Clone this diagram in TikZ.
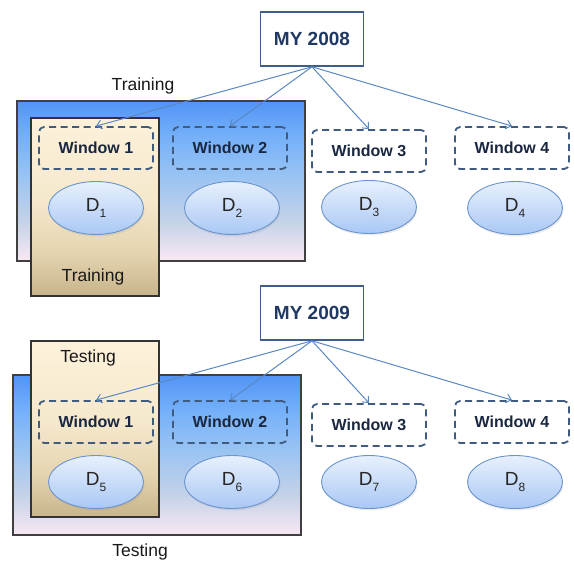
\documentclass[tikz,border=0pt]{standalone}
\usepackage{fontspec}
\setmainfont{Liberation Sans}
\usetikzlibrary{shapes.geometric,arrows.meta,shadows}
\definecolor{mybord}{HTML}{3E5C8C}
\definecolor{mytext}{HTML}{1F3864}
\definecolor{winbord}{HTML}{3F5B80}
\definecolor{wintext}{HTML}{1A2740}
\definecolor{arrowc}{HTML}{5A88C2}
\definecolor{bluetop}{HTML}{5294F6}
\definecolor{blueup}{HTML}{74B0F9}
\definecolor{bluemid}{HTML}{98C3F3}
\definecolor{bluegray}{HTML}{C6D3E8}
\definecolor{bluebot}{HTML}{F9E8F4}
\definecolor{tantop}{HTML}{FDF1DA}
\definecolor{tanmid}{HTML}{F5E8CC}
\definecolor{tanlow}{HTML}{E4D4B0}
\definecolor{tanbot}{HTML}{C7B48A}
\definecolor{elltop}{HTML}{E8F0FD}
\definecolor{ellbot}{HTML}{A9C8F5}
\definecolor{ellbord}{HTML}{6A94CC}
\pgfdeclareverticalshading{bluesh}{100bp}{color(0bp)=(bluebot); color(25bp)=(bluebot); color(37bp)=(bluegray); color(52bp)=(bluemid); color(64bp)=(blueup); color(75bp)=(bluetop); color(100bp)=(bluetop)}
\pgfdeclareverticalshading{tansh}{100bp}{color(0bp)=(tanbot); color(25bp)=(tanbot); color(37bp)=(tanlow); color(52bp)=(tanmid); color(75bp)=(tantop); color(100bp)=(tantop)}
\newcommand{\dsub}[1]{D\raisebox{-0.28em}{\fontsize{12}{14}\selectfont #1}}
\begin{document}
\begin{tikzpicture}[x=1pt,y=-1pt,
  yearbox/.style={draw=mybord, line width=1.6pt, fill=white, minimum width=103pt, minimum height=54pt, font=\fontsize{19}{22}\selectfont\bfseries, text=mytext, inner sep=0},
  winbox/.style={draw=winbord, line width=1.8pt, dash pattern=on 7pt off 4.5pt, rounded corners=5pt, minimum width=114pt, minimum height=42pt, font=\fontsize{16}{19}\selectfont\bfseries, text=wintext, inner sep=0},
  dnode/.style={ellipse, draw=ellbord, line width=0.9pt, top color=elltop, bottom color=ellbot, minimum width=95pt, minimum height=53pt, inner sep=0, font=\fontsize{19}{22}\selectfont, text=black!85, drop shadow={shadow xshift=1pt, shadow yshift=-2pt, opacity=0.15}},
  lbl/.style={font=\fontsize{17.5}{20}\selectfont, text=black!90, inner sep=0},
  arr/.style={draw=arrowc, line width=1pt, -{Straight Barb[length=5pt,width=9pt]}},
  bluebg/.style={draw=black!75, line width=1.3pt, shading=bluesh},
  tanbg/.style={draw=black!80, line width=1.3pt, shading=tansh}
]
\useasboundingbox (0,0) rectangle (574,563);
% top section
\path[bluebg] (17,101) rectangle (305,261);
\path[tanbg] (31,118) rectangle (159,296);
\node[lbl] (trainA) at (143,86) {Training};
\node[lbl] (trainB) at (93,277) {Training};
\node[yearbox] (my1) at (312,39) {MY 2008};
\node[winbox] (w1) at (96,148) {Window 1};
\node[winbox] (w2) at (230,148) {Window 2};
\node[winbox] (w3) at (369,151) {Window 3};
\node[winbox] (w4) at (512,148) {Window 4};
\node[dnode] (d1) at (96,208) {\dsub{1}};
\node[dnode] (d2) at (232,208) {\dsub{2}};
\node[dnode] (d3) at (369,207) {\dsub{3}};
\node[dnode] (d4) at (515,208) {\dsub{4}};
\foreach \w in {w1,w2,w3,w4} \draw[arr] (my1.south) -- (\w.north);
% bottom section
\path[bluebg] (13,375) rectangle (301,535);
\path[tanbg] (31,341) rectangle (159,517);
\node[lbl] (testA) at (88,358) {Testing};
\node[lbl] (testB) at (140,552) {Testing};
\node[yearbox] (my2) at (312,313) {MY 2009};
\node[winbox] (w5) at (96,422) {Window 1};
\node[winbox] (w6) at (230,422) {Window 2};
\node[winbox] (w7) at (369,425) {Window 3};
\node[winbox] (w8) at (512,422) {Window 4};
\node[dnode] (d5) at (96,482) {\dsub{5}};
\node[dnode] (d6) at (232,482) {\dsub{6}};
\node[dnode] (d7) at (369,482) {\dsub{7}};
\node[dnode] (d8) at (515,482) {\dsub{8}};
\foreach \w in {w5,w6,w7,w8} \draw[arr] (my2.south) -- (\w.north);
\end{tikzpicture}
\end{document}
